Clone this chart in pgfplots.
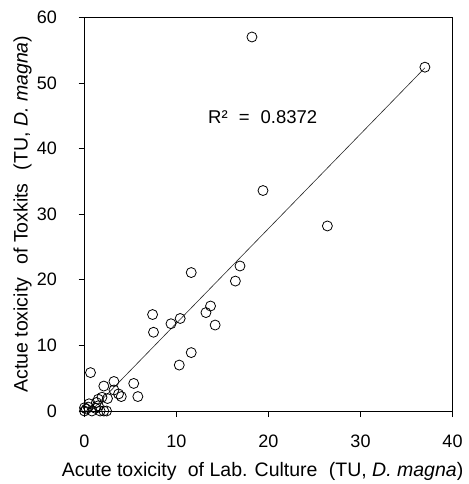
\documentclass[border=0pt]{standalone}
\usepackage{fontspec}
\setmainfont{Liberation Sans}
\usepackage{pgfplots}
\pgfplotsset{compat=1.18}

\begin{document}
\begin{tikzpicture}
\useasboundingbox (-84.5pt,-73pt) rectangle (383.5pt,411pt);
\begin{axis}[
  at={(0,0)}, anchor=south west,
  scale only axis, width=368pt, height=393.7pt,
  xmin=0, xmax=40, ymin=0, ymax=60,
  xtick={0,10,...,40}, ytick={0,10,...,60},
  tick align=outside, xtick pos=bottom, ytick pos=left,
  major tick length=6pt,
  axis line style={black, line width=0.8pt},
  tick style={black, line width=0.8pt},
  /pgf/number format/assume math mode=true,
  tick label style={font=\fontsize{18}{20}\selectfont},
  label style={font=\fontsize{19.5}{22}\selectfont},
  xlabel={Acute toxicity\hspace{0.3em} of Lab. Culture\hspace{0.3em} (TU, \textit{D. magna})},
  ylabel={Actue toxicity\hspace{0.4em} of Toxkits\hspace{0.4em} (TU, \textit{D. magna})},
  xticklabel style={yshift=-14pt},
  yticklabel style={anchor=east, xshift=-18pt},
  xlabel style={at={(axis description cs:0.4837,-0.1537)}, anchor=center},
  ylabel style={at={(axis description cs:-0.168,0.5)}, anchor=center},
  clip=true]
% trend line
\addplot[gray!30!black, line width=0.6pt] coordinates {(0.7,0) (37.0,52.3)};
% measured samples
\addplot[only marks, mark=o, mark size=5pt, mark options={line width=0.8pt, black}] coordinates {
  (18.2,57.0) (37.0,52.4) (19.4,33.6) (26.4,28.2) (11.6,21.1) (16.9,22.1)
  (16.4,19.8) (13.7,16.0) (13.2,15.0) (14.2,13.1) (7.4,14.7) (7.5,12.0)
  (9.4,13.3) (10.4,14.1) (11.6,8.9) (10.3,7.0) (0.65,5.85) (5.35,4.2)
  (5.8,2.2) (3.2,4.5) (2.1,3.8) (3.2,3.2) (3.7,2.6) (4.0,2.2) (2.5,1.9)
  (1.9,2.1) (1.5,1.8) (1.3,1.3) (0.5,1.1) (1.5,0.8) (1.2,0.4) (0.4,0.6)
  (0,0) (0.2,0.3) (0.8,0) (1.7,0) (2.1,0) (2.4,0) (0,0.5)};
\node[font=\fontsize{18.5}{21}\selectfont] at (axis cs:19.37,44.85)
  {R²\hspace{0.6em}=\hspace{0.6em}0.8372};
\end{axis}
\end{tikzpicture}
\end{document}
